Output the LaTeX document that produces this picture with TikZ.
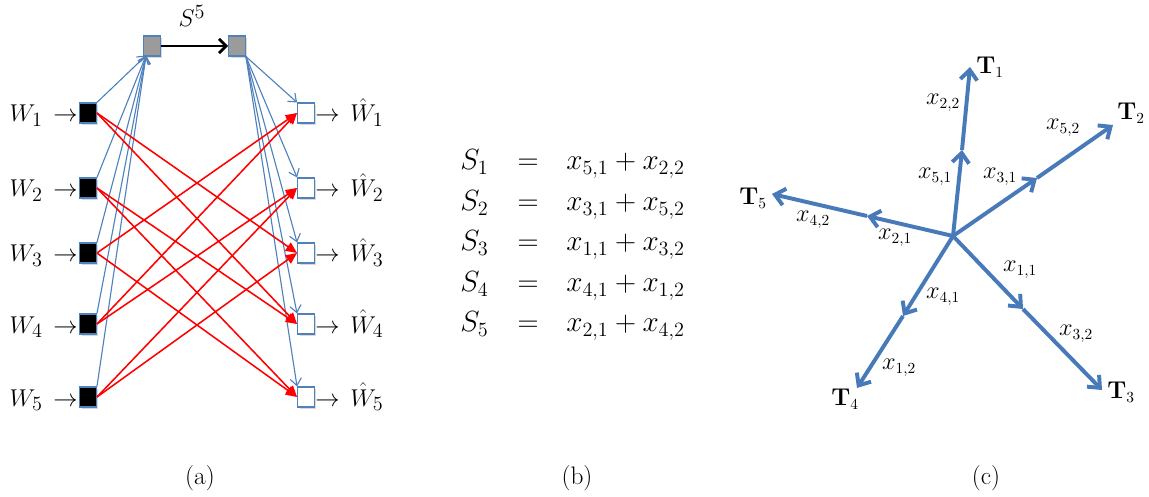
\documentclass[tikz,border=0pt]{standalone}
\usetikzlibrary{arrows.meta,shadows}
\definecolor{boxblue}{RGB}{79,129,189}
\definecolor{lineblue}{RGB}{79,129,189}
\definecolor{arrblue}{RGB}{72,122,186}
\definecolor{relaygray}{RGB}{155,155,155}
\begin{document}
\begin{tikzpicture}[x=0.025cm,y=-0.025cm,
  box/.style={draw=boxblue, line width=0.8pt, minimum width=0.42cm, minimum height=0.5cm, inner sep=0pt,
    drop shadow={opacity=0.3, shadow xshift=0.05cm, shadow yshift=-0.05cm}},
  src/.style={box, fill=black},
  dst/.style={box, fill=white},
  relay/.style={box, fill=relaygray},
  bl/.style={draw=lineblue, line width=0.8pt, -{Straight Barb[length=5pt,width=8pt]}},
  rd/.style={draw=red, line width=1.1pt, -{Triangle[length=8pt,width=7pt]}},
  blk/.style={draw=black, line width=2pt, -{Straight Barb[length=5pt,width=10pt]}},
  carr/.style={draw=arrblue, line width=2.8pt, -{Straight Barb[length=7pt,width=12pt]}},
  wlab/.style={inner sep=0pt, font=\fontsize{19}{22}\selectfont},
  eq/.style={inner sep=0pt, font=\fontsize{21}{25}\selectfont},
  clab/.style={inner sep=0pt, font=\fontsize{16}{19}\selectfont},
  captext/.style={inner sep=0pt, font=\fontsize{18}{21}\selectfont}]
\useasboundingbox (0,0) rectangle (1149,497);

% ---------- (a) ----------
\foreach \i/\y in {1/113,2/188,3/253,4/324,5/397}{
  \node[src] (w\i) at (88,\y) {};
  \node[dst] (d\i) at (306,\y) {};
  \node[wlab, anchor=base east] (lw\i) at (78,\y+9) {$W_\i\,\rightarrow$};
  \node[wlab, anchor=base west] (lh\i) at (315,\y+9) {$\rightarrow\,\hat{W}_\i$};
}
\node[relay] (gl) at (152,46) {};
\node[relay] (gr) at (237,46) {};
\node[wlab, anchor=base] (s5) at (192,27) {$S^5$};
\draw[blk] (gl) -- (gr);

\foreach \i in {1,...,5}{
  \draw[bl] (w\i.north east) -- ([shift={(3,-1)}]gl.south west);
  \draw[bl] (gr.south east) -- (d\i.north west);
}
\foreach \a/\b in {1/3,1/4,2/4,2/5,3/5,3/1,4/1,4/2,5/2,5/3}{
  \draw[rd] (w\a.east) -- (d\b.west);
}

% ---------- (b) ----------
\foreach \i/\y/\r in {1/170/{x_{5,1}+x_{2,2}},2/211/{x_{3,1}+x_{5,2}},3/251/{x_{1,1}+x_{3,2}},4/292/{x_{4,1}+x_{1,2}},5/332/{x_{2,1}+x_{4,2}}}{
  \node[eq, anchor=base west] (s\i) at (460,\y) {$S_\i$};
  \node[eq, anchor=base] (e\i) at (528,\y) {$=$};
  \node[eq, anchor=base west] (r\i) at (566,\y) {$\r$};
}

% ---------- (c) ----------
\coordinate (c) at (953,236);
\coordinate (m1) at (962,150);  \coordinate (t1) at (970,67);
\coordinate (m2) at (1037,178); \coordinate (t2) at (1113,125);
\coordinate (m3) at (1023,309); \coordinate (t3) at (1102,390);
\coordinate (m4) at (903,316);  \coordinate (t4) at (857,388);
\coordinate (m5) at (867,216);  \coordinate (t5) at (772,194);
\foreach \i in {1,...,5}{
  \draw[carr] (c) -- (m\i);
  \draw[carr] (m\i) -- (t\i);
}
\node[clab] (T1) at (990,67) {$\mathbf{T}_1$};
\node[clab] (T2) at (1131,113) {$\mathbf{T}_2$};
\node[clab] (T3) at (1121,392) {$\mathbf{T}_3$};
\node[clab] (T4) at (845,399) {$\mathbf{T}_4$};
\node[clab] (T5) at (753,198) {$\mathbf{T}_5$};

\node[clab] (x22) at (943,103) {$x_{2,2}$};
\node[clab] (x51) at (935,177) {$x_{5,1}$};
\node[clab] (x31) at (1000,177) {$x_{3,1}$};
\node[clab] (x52) at (1063,128) {$x_{5,2}$};
\node[clab] (x42) at (813,220) {$x_{4,2}$};
\node[clab] (x21) at (895,238) {$x_{2,1}$};
\node[clab] (x11) at (1020,270) {$x_{1,1}$};
\node[clab] (x41) at (943,297) {$x_{4,1}$};
\node[clab] (x32) at (1076,334) {$x_{3,2}$};
\node[clab] (x12) at (899,368) {$x_{1,2}$};

% ---------- captions ----------
\node[captext] (ca) at (200,478) {(a)};
\node[captext] (cb) at (577,478) {(b)};
\node[captext] (cc) at (986,478) {(c)};
\end{tikzpicture}
\end{document}
